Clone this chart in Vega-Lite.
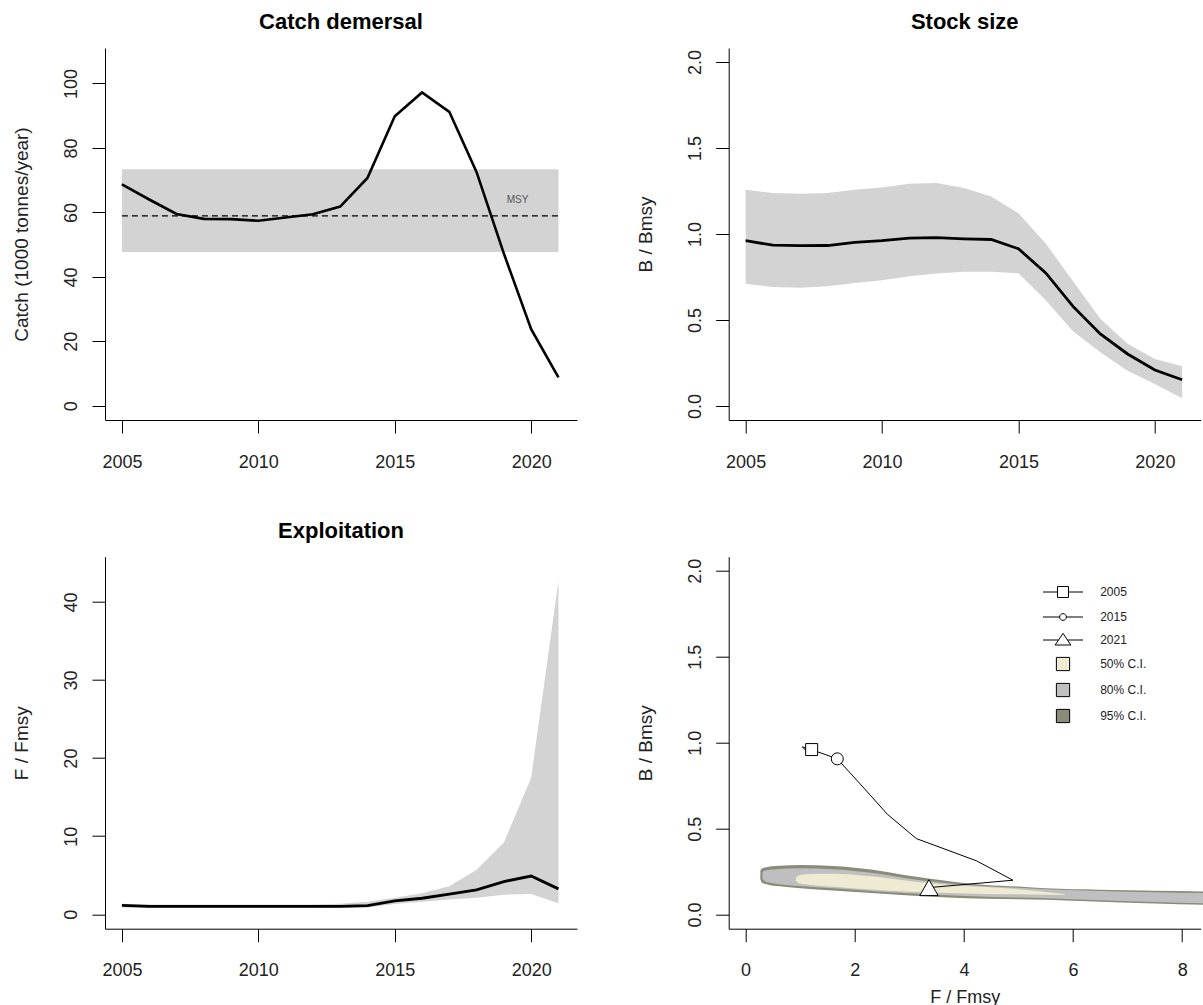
{
  "$schema": "https://vega.github.io/schema/vega-lite/v6.json",
  "background": "white",
  "padding": {"left": 12, "top": 11, "right": 0, "bottom": 0},
  "bounds": "flush",
  "columns": 2,
  "spacing": {"row": 136.7, "column": 151.7},
  "config": {
    "view": {"stroke": null},
    "font": "Liberation Sans",
    "axis": {
      "grid": false, "domainColor": "black", "domainWidth": 1, "tickColor": "black", "tickWidth": 1, "tickSize": 13,
      "labelFont": "Liberation Sans", "labelFontSize": 18, "labelColor": "#222", "labelFlush": false, "labelOverlap": false,
      "titleFont": "Liberation Sans", "titleFontSize": 19, "titleFontWeight": "normal", "titleColor": "#222"
    },
    "axisX": {"labelPadding": 20, "labelBaseline": "top", "titleBaseline": "alphabetic", "titleY": 73.5, "titleFontSize": 18},
    "axisY": {"labelAngle": -90, "labelAlign": "center", "labelBaseline": "alphabetic", "labelPadding": 15.5,
              "titleAngle": -90, "titleX": -77.2, "titleBaseline": "alphabetic", "titleAlign": "center"},
    "title": {"font": "Liberation Sans", "fontSize": 22, "fontWeight": "bold", "color": "black", "frame": "group", "anchor": "middle", "baseline": "alphabetic", "offset": 13.8}
  },
  "datasets": {
    "catch": [
      {"year": 2005, "catch": 68.7}, {"year": 2006, "catch": 64.0}, {"year": 2007, "catch": 59.5},
      {"year": 2008, "catch": 58.0}, {"year": 2009, "catch": 57.9}, {"year": 2010, "catch": 57.4},
      {"year": 2011, "catch": 58.4}, {"year": 2012, "catch": 59.4}, {"year": 2013, "catch": 61.8},
      {"year": 2014, "catch": 70.7}, {"year": 2015, "catch": 89.8}, {"year": 2016, "catch": 97.2},
      {"year": 2017, "catch": 91.2}, {"year": 2018, "catch": 72.5}, {"year": 2019, "catch": 47.2},
      {"year": 2020, "catch": 23.8}, {"year": 2021, "catch": 8.8}
    ],
    "msy": [{"start": 2005, "end": 2021, "lo": 47.7, "hi": 73.4, "msy": 58.9}],
    "bio": [
      {"year": 2005, "lo": 0.711, "est": 0.961, "hi": 1.257},
      {"year": 2006, "lo": 0.692, "est": 0.935, "hi": 1.238},
      {"year": 2007, "lo": 0.688, "est": 0.932, "hi": 1.234},
      {"year": 2008, "lo": 0.696, "est": 0.933, "hi": 1.238},
      {"year": 2009, "lo": 0.715, "est": 0.951, "hi": 1.257},
      {"year": 2010, "lo": 0.731, "est": 0.961, "hi": 1.271},
      {"year": 2011, "lo": 0.754, "est": 0.976, "hi": 1.292},
      {"year": 2012, "lo": 0.770, "est": 0.979, "hi": 1.296},
      {"year": 2013, "lo": 0.780, "est": 0.972, "hi": 1.267},
      {"year": 2014, "lo": 0.781, "est": 0.968, "hi": 1.218},
      {"year": 2015, "lo": 0.772, "est": 0.914, "hi": 1.121},
      {"year": 2016, "lo": 0.614, "est": 0.774, "hi": 0.945},
      {"year": 2017, "lo": 0.435, "est": 0.579, "hi": 0.725},
      {"year": 2018, "lo": 0.312, "est": 0.419, "hi": 0.507},
      {"year": 2019, "lo": 0.205, "est": 0.302, "hi": 0.361},
      {"year": 2020, "lo": 0.127, "est": 0.209, "hi": 0.273},
      {"year": 2021, "lo": 0.045, "est": 0.152, "hi": 0.230}
    ],
    "fish": [
      {"year": 2005, "lo": 0.85, "est": 1.15, "hi": 1.35},
      {"year": 2006, "lo": 0.8, "est": 1.0, "hi": 1.25},
      {"year": 2007, "lo": 0.8, "est": 1.0, "hi": 1.25},
      {"year": 2008, "lo": 0.8, "est": 1.0, "hi": 1.25},
      {"year": 2009, "lo": 0.8, "est": 1.0, "hi": 1.25},
      {"year": 2010, "lo": 0.8, "est": 1.0, "hi": 1.25},
      {"year": 2011, "lo": 0.8, "est": 1.0, "hi": 1.25},
      {"year": 2012, "lo": 0.8, "est": 1.0, "hi": 1.25},
      {"year": 2013, "lo": 0.8, "est": 1.02, "hi": 1.35},
      {"year": 2014, "lo": 0.85, "est": 1.1, "hi": 1.6},
      {"year": 2015, "lo": 1.3, "est": 1.71, "hi": 2.1},
      {"year": 2016, "lo": 1.6, "est": 2.05, "hi": 2.7},
      {"year": 2017, "lo": 1.9, "est": 2.57, "hi": 3.6},
      {"year": 2018, "lo": 2.1, "est": 3.12, "hi": 5.7},
      {"year": 2019, "lo": 2.5, "est": 4.19, "hi": 9.2},
      {"year": 2020, "lo": 2.6, "est": 4.9, "hi": 17.5},
      {"year": 2021, "lo": 1.4, "est": 3.25, "hi": 42.7}
    ],
    "traj": [
      {"year": 2005, "F": 1.21, "B": 0.96}, {"year": 2006, "F": 1.04, "B": 0.975},
      {"year": 2007, "F": 1.12, "B": 0.95}, {"year": 2008, "F": 1.14, "B": 0.945},
      {"year": 2009, "F": 1.15, "B": 0.95}, {"year": 2010, "F": 1.16, "B": 0.96},
      {"year": 2011, "F": 1.17, "B": 0.965}, {"year": 2012, "F": 1.18, "B": 0.97},
      {"year": 2013, "F": 1.2, "B": 0.965}, {"year": 2014, "F": 1.25, "B": 0.955},
      {"year": 2015, "F": 1.68, "B": 0.906}, {"year": 2016, "F": 2.1, "B": 0.76},
      {"year": 2017, "F": 2.6, "B": 0.583}, {"year": 2018, "F": 3.13, "B": 0.442},
      {"year": 2019, "F": 4.23, "B": 0.313}, {"year": 2020, "F": 4.9, "B": 0.2},
      {"year": 2021, "F": 3.36, "B": 0.157}
    ],
    "markers": [
      {"key": "2005", "F": 1.21, "B": 0.96},
      {"key": "2015", "F": 1.68, "B": 0.906},
      {"key": "2021", "F": 3.36, "B": 0.157}
    ],
    "ci": [
      {"level": "95", "F": 0.27, "lo": 0.205, "hi": 0.255},
      {"level": "95", "F": 0.30, "lo": 0.185, "hi": 0.268},
      {"level": "95", "F": 0.40, "lo": 0.175, "hi": 0.277},
      {"level": "95", "F": 0.70, "lo": 0.162, "hi": 0.285},
      {"level": "95", "F": 1.00, "lo": 0.153, "hi": 0.288},
      {"level": "95", "F": 1.60, "lo": 0.140, "hi": 0.283},
      {"level": "95", "F": 2.30, "lo": 0.125, "hi": 0.262},
      {"level": "95", "F": 3.00, "lo": 0.111, "hi": 0.226},
      {"level": "95", "F": 3.70, "lo": 0.100, "hi": 0.196},
      {"level": "95", "F": 4.40, "lo": 0.092, "hi": 0.172},
      {"level": "95", "F": 5.00, "lo": 0.089, "hi": 0.163},
      {"level": "95", "F": 5.50, "lo": 0.087, "hi": 0.153},
      {"level": "95", "F": 6.50, "lo": 0.075, "hi": 0.145},
      {"level": "95", "F": 7.50, "lo": 0.064, "hi": 0.139},
      {"level": "95", "F": 8.40, "lo": 0.057, "hi": 0.135},
      {"level": "80", "F": 0.31, "lo": 0.207, "hi": 0.248},
      {"level": "80", "F": 0.36, "lo": 0.193, "hi": 0.257},
      {"level": "80", "F": 0.50, "lo": 0.183, "hi": 0.263},
      {"level": "80", "F": 1.00, "lo": 0.166, "hi": 0.269},
      {"level": "80", "F": 1.60, "lo": 0.153, "hi": 0.264},
      {"level": "80", "F": 2.30, "lo": 0.138, "hi": 0.243},
      {"level": "80", "F": 3.00, "lo": 0.124, "hi": 0.209},
      {"level": "80", "F": 3.70, "lo": 0.113, "hi": 0.182},
      {"level": "80", "F": 4.40, "lo": 0.104, "hi": 0.165},
      {"level": "80", "F": 5.00, "lo": 0.099, "hi": 0.156},
      {"level": "80", "F": 5.50, "lo": 0.095, "hi": 0.147},
      {"level": "80", "F": 6.50, "lo": 0.084, "hi": 0.138},
      {"level": "80", "F": 7.50, "lo": 0.074, "hi": 0.130},
      {"level": "80", "F": 8.40, "lo": 0.066, "hi": 0.125},
      {"level": "50", "F": 0.92, "lo": 0.196, "hi": 0.214},
      {"level": "50", "F": 1.00, "lo": 0.181, "hi": 0.230},
      {"level": "50", "F": 1.30, "lo": 0.170, "hi": 0.238},
      {"level": "50", "F": 1.60, "lo": 0.162, "hi": 0.238},
      {"level": "50", "F": 2.30, "lo": 0.146, "hi": 0.223},
      {"level": "50", "F": 3.00, "lo": 0.133, "hi": 0.196},
      {"level": "50", "F": 3.70, "lo": 0.126, "hi": 0.174},
      {"level": "50", "F": 4.40, "lo": 0.120, "hi": 0.160},
      {"level": "50", "F": 5.00, "lo": 0.118, "hi": 0.148},
      {"level": "50", "F": 5.50, "lo": 0.116, "hi": 0.132},
      {"level": "50", "F": 5.85, "lo": 0.116, "hi": 0.120}
    ]
  },
  "concat": [
    {
      "width": 472, "height": 372,
      "title": "Catch demersal",
      "layer": [
        {
          "data": {"name": "msy"},
          "mark": {"type": "rect", "color": "#d3d3d3"},
          "encoding": {
            "x": {"field": "start", "type": "quantitative", "scale": {"domain": [2004.38, 2021.68], "nice": false, "zero": false},
                  "axis": {"values": [2005, 2010, 2015, 2020], "format": "d", "title": null}},
            "x2": {"field": "end"},
            "y": {"field": "lo", "type": "quantitative", "scale": {"domain": [-4.4, 111], "nice": false, "zero": false},
                  "axis": {"values": [0, 20, 40, 60, 80, 100], "title": "Catch (1000 tonnes/year)"}},
            "y2": {"field": "hi"}
          }
        },
        {
          "data": {"name": "msy"},
          "mark": {"type": "rule", "color": "black", "strokeWidth": 1.2, "strokeDash": [6, 4]},
          "encoding": {
            "x": {"field": "start", "type": "quantitative"},
            "x2": {"field": "end"},
            "y": {"field": "msy", "type": "quantitative"}
          }
        },
        {
          "data": {"name": "msy"},
          "mark": {"type": "text", "text": "MSY", "fontSize": 10, "color": "#555", "baseline": "middle", "dy": -16},
          "encoding": {
            "x": {"datum": 2019.5, "type": "quantitative"},
            "y": {"field": "msy", "type": "quantitative"}
          }
        },
        {
          "data": {"name": "catch"},
          "mark": {"type": "line", "color": "black", "strokeWidth": 2.6},
          "encoding": {
            "x": {"field": "year", "type": "quantitative"},
            "y": {"field": "catch", "type": "quantitative"}
          }
        }
      ]
    },
    {
      "width": 472, "height": 372,
      "title": "Stock size",
      "layer": [
        {
          "data": {"name": "bio"},
          "mark": {"type": "area", "color": "#d3d3d3"},
          "encoding": {
            "x": {"field": "year", "type": "quantitative", "scale": {"domain": [2004.38, 2021.68], "nice": false, "zero": false},
                  "axis": {"values": [2005, 2010, 2015, 2020], "format": "d", "title": null}},
            "y": {"field": "lo", "type": "quantitative", "scale": {"domain": [-0.082, 2.082], "nice": false, "zero": false},
                  "axis": {"values": [0, 0.5, 1, 1.5, 2], "format": ".1f", "title": "B / Bmsy"}},
            "y2": {"field": "hi"}
          }
        },
        {
          "mark": {"type": "rule", "color": "black", "strokeWidth": 1.2, "strokeDash": [6, 4]},
          "encoding": {
            "x": {"datum": 2005, "type": "quantitative"},
            "x2": {"datum": 2021},
            "y": {"datum": 1, "type": "quantitative"}
          }
        },
        {
          "mark": {"type": "rule", "color": "black", "strokeWidth": 1.2, "strokeDash": [2, 2]},
          "encoding": {
            "x": {"datum": 2005, "type": "quantitative"},
            "x2": {"datum": 2021},
            "y": {"datum": 0.5, "type": "quantitative"}
          }
        },
        {
          "data": {"name": "bio"},
          "mark": {"type": "line", "color": "black", "strokeWidth": 2.8},
          "encoding": {
            "x": {"field": "year", "type": "quantitative"},
            "y": {"field": "est", "type": "quantitative"}
          }
        }
      ]
    },
    {
      "width": 472, "height": 372,
      "title": "Exploitation",
      "layer": [
        {
          "data": {"name": "fish"},
          "mark": {"type": "area", "color": "#d3d3d3"},
          "encoding": {
            "x": {"field": "year", "type": "quantitative", "scale": {"domain": [2004.38, 2021.68], "nice": false, "zero": false},
                  "axis": {"values": [2005, 2010, 2015, 2020], "format": "d", "title": null}},
            "y": {"field": "lo", "type": "quantitative", "scale": {"domain": [-1.85, 45.8], "nice": false, "zero": false},
                  "axis": {"values": [0, 10, 20, 30, 40], "title": "F / Fmsy"}},
            "y2": {"field": "hi"}
          }
        },
        {
          "mark": {"type": "rule", "color": "black", "strokeWidth": 1.2, "strokeDash": [6, 4]},
          "encoding": {
            "x": {"datum": 2005, "type": "quantitative"},
            "x2": {"datum": 2021},
            "y": {"datum": 1, "type": "quantitative"}
          }
        },
        {
          "data": {"name": "fish"},
          "mark": {"type": "line", "color": "black", "strokeWidth": 2.8},
          "encoding": {
            "x": {"field": "year", "type": "quantitative"},
            "y": {"field": "est", "type": "quantitative"}
          }
        }
      ]
    },
    {
      "width": 472, "height": 372,
      "layer": [
        {
          "data": {"name": "ci"},
          "transform": [{"filter": "datum.level == '95'"}],
          "mark": {"type": "area", "color": "#8b8b7a", "interpolate": "monotone"},
          "encoding": {
            "x": {"field": "F", "type": "quantitative", "scale": {"domain": [-0.31, 8.34], "nice": false, "zero": false},
                  "axis": {"values": [0, 2, 4, 6, 8], "title": "F / Fmsy"}},
            "y": {"field": "lo", "type": "quantitative", "scale": {"domain": [-0.082, 2.082], "nice": false, "zero": false},
                  "axis": {"values": [0, 0.5, 1, 1.5, 2], "format": ".1f", "title": "B / Bmsy"}},
            "y2": {"field": "hi"}
          }
        },
        {
          "data": {"name": "ci"},
          "transform": [{"filter": "datum.level == '80'"}],
          "mark": {"type": "area", "color": "#bfbfbf", "interpolate": "monotone"},
          "encoding": {
            "x": {"field": "F", "type": "quantitative"},
            "y": {"field": "lo", "type": "quantitative"},
            "y2": {"field": "hi"}
          }
        },
        {
          "data": {"name": "ci"},
          "transform": [{"filter": "datum.level == '50'"}],
          "mark": {"type": "area", "color": "#eeebd2", "interpolate": "monotone"},
          "encoding": {
            "x": {"field": "F", "type": "quantitative"},
            "y": {"field": "lo", "type": "quantitative"},
            "y2": {"field": "hi"}
          }
        },
        {
          "mark": {"type": "rule", "color": "black", "strokeWidth": 1.2, "strokeDash": [2, 2]},
          "encoding": {"x": {"datum": 1, "type": "quantitative"}}
        },
        {
          "mark": {"type": "rule", "color": "black", "strokeWidth": 1.2, "strokeDash": [2, 2]},
          "encoding": {"y": {"datum": 1, "type": "quantitative"}}
        },
        {
          "data": {"name": "traj"},
          "mark": {"type": "line", "color": "black", "strokeWidth": 1},
          "encoding": {
            "x": {"field": "F", "type": "quantitative"},
            "y": {"field": "B", "type": "quantitative"},
            "order": {"field": "year", "type": "quantitative"}
          }
        },
        {
          "data": {"name": "markers"},
          "transform": [{"filter": "datum.key == '2005'"}],
          "mark": {"type": "point", "shape": "square", "size": 144, "filled": false, "fill": "white", "fillOpacity": 1, "stroke": "black", "strokeWidth": 1, "opacity": 1},
          "encoding": {"x": {"field": "F", "type": "quantitative"}, "y": {"field": "B", "type": "quantitative"}}
        },
        {
          "data": {"name": "markers"},
          "transform": [{"filter": "datum.key == '2015'"}],
          "mark": {"type": "point", "shape": "circle", "size": 144, "filled": false, "fill": "white", "fillOpacity": 1, "stroke": "black", "strokeWidth": 1, "opacity": 1},
          "encoding": {"x": {"field": "F", "type": "quantitative"}, "y": {"field": "B", "type": "quantitative"}}
        },
        {
          "data": {"name": "markers"},
          "transform": [{"filter": "datum.key == '2021'"}],
          "mark": {"type": "point", "shape": "triangle-up", "size": 340, "filled": false, "fill": "white", "fillOpacity": 1, "stroke": "black", "strokeWidth": 1, "opacity": 1},
          "encoding": {"x": {"field": "F", "type": "quantitative"}, "y": {"field": "B", "type": "quantitative"}}
        },
        {
          "data": {"name": "markers"},
          "mark": {"type": "point", "filled": false, "stroke": "black", "strokeWidth": 1, "opacity": 0},
          "encoding": {
            "x": {"field": "F", "type": "quantitative"},
            "y": {"field": "B", "type": "quantitative"},
            "fill": {
              "field": "key", "type": "nominal",
              "scale": {"domain": ["2005", "2015", "2021", "50% C.I.", "80% C.I.", "95% C.I."],
                        "range": ["white", "white", "white", "#eeebd2", "#bfbfbf", "#8b8b7a"]},
              "legend": {"title": null, "orient": "none", "legendX": 945, "legendY": 531, "padding": 0,
                         "symbolSize": 625, "symbolStrokeColor": "black", "symbolStrokeWidth": 1, "symbolOpacity": 1,
                         "labelFont": "Liberation Sans", "labelFontSize": 12, "labelColor": "#222", "labelOffset": 24.2, "rowPadding": 4,
                         "encoding": {"symbols": {"stroke": {"value": "black"}, "strokeWidth": {"value": 1}, "strokeOpacity": {"value": 1}, "opacity": {"value": 1}}}}
            },
            "shape": {
              "field": "key", "type": "nominal",
              "scale": {"domain": ["2005", "2015", "2021", "50% C.I.", "80% C.I.", "95% C.I."],
                        "range": [
                          "M-1.6,0H-0.44M0.44,0H1.6M-0.44,-0.44H0.44V0.44H-0.44Z",
                          "M-1.6,0H-0.27M0.27,0H1.6M-0.27,0A0.27,0.27,0,1,1,0.27,0A0.27,0.27,0,1,1,-0.27,0Z",
                          "M-1.6,0H-0.36M0.36,0H1.6M0,-0.53L0.63,0.4H-0.63Z",
                          "M-0.53,-0.53H0.53V0.53H-0.53Z",
                          "M-0.53,-0.53H0.53V0.53H-0.53Z",
                          "M-0.53,-0.53H0.53V0.53H-0.53Z"
                        ]},
              "legend": {"title": null, "orient": "none", "legendX": 945, "legendY": 531, "padding": 0,
                         "symbolSize": 625, "symbolStrokeColor": "black", "symbolStrokeWidth": 1, "symbolOpacity": 1,
                         "labelFont": "Liberation Sans", "labelFontSize": 12, "labelColor": "#222", "labelOffset": 24.2, "rowPadding": 4,
                         "encoding": {"symbols": {"stroke": {"value": "black"}, "strokeWidth": {"value": 1}, "strokeOpacity": {"value": 1}, "opacity": {"value": 1}}}}
            }
          }
        }
      ]
    }
  ]
}
